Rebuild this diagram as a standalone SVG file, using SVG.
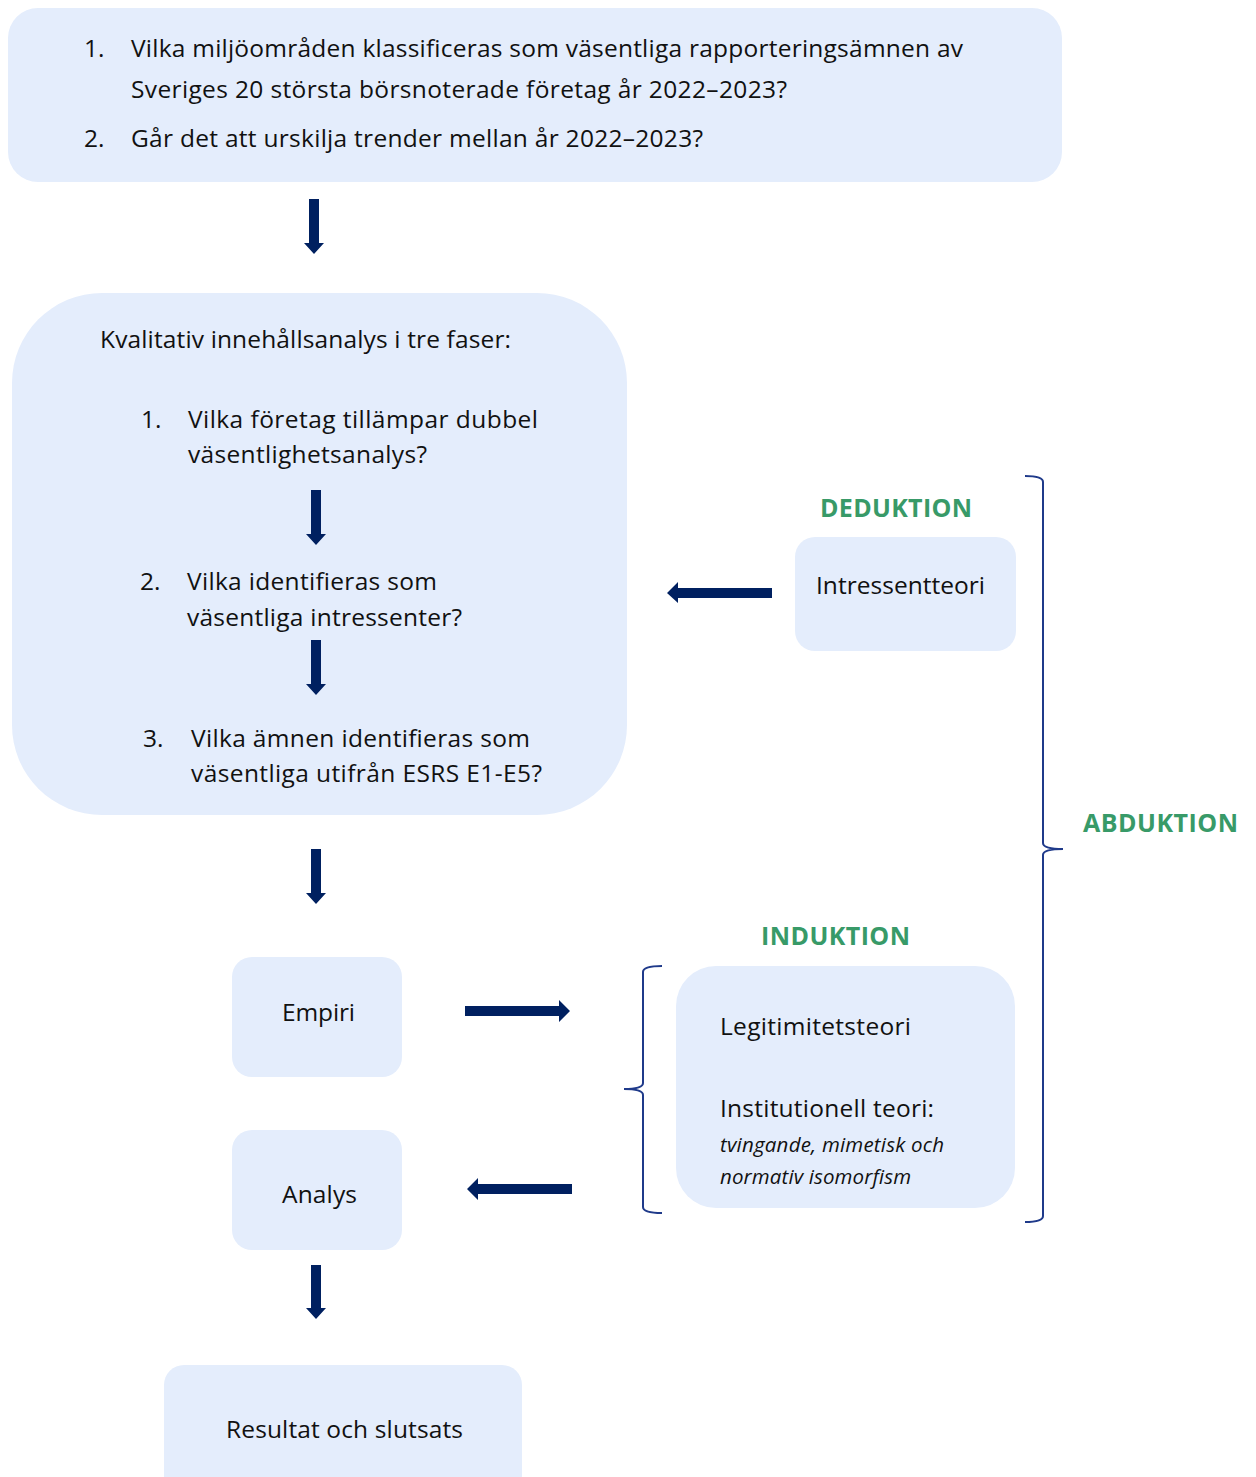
<svg xmlns="http://www.w3.org/2000/svg" width="1256" height="1477" viewBox="0 0 1256 1477">
<style>
.box{fill:#E4EDFC}
.t{font-family:"Open Sans","Noto Sans","Liberation Sans",sans-serif;font-size:24.5px;fill:#111}
.ti{font-family:"Open Sans","Noto Sans","Liberation Sans",sans-serif;font-size:20.5px;font-style:italic;fill:#111}
.g{font-family:"Open Sans","Noto Sans","Liberation Sans",sans-serif;font-size:25px;font-weight:bold;fill:#389A68}
.arr{fill:#002060}
.br{fill:none;stroke:#1F3A8A;stroke-width:2}
</style>
<rect width="1256" height="1477" fill="#fff"/>
<g id="questions">
<rect class="box" x="8" y="8" width="1054" height="174" rx="30"/>
<text class="t" x="84" y="57">1.</text>
<text class="t" x="131" y="57" textLength="832">Vilka miljöområden klassificeras som väsentliga rapporteringsämnen av</text>
<text class="t" x="131" y="98" textLength="656">Sveriges 20 största börsnoterade företag år 2022–2023?</text>
<text class="t" x="84" y="147">2.</text>
<text class="t" x="131" y="147" textLength="572">Går det att urskilja trender mellan år 2022–2023?</text>
</g>
<g id="analysis">
<rect class="box" x="12" y="293" width="615" height="522" rx="90"/>
<text class="t" x="100" y="348" textLength="411">Kvalitativ innehållsanalys i tre faser:</text>
<text class="t" x="141" y="428">1.</text>
<text class="t" x="188" y="428" textLength="350">Vilka företag tillämpar dubbel</text>
<text class="t" x="188" y="463" textLength="239">väsentlighetsanalys?</text>
<text class="t" x="140" y="590">2.</text>
<text class="t" x="187" y="590" textLength="250">Vilka identifieras som</text>
<text class="t" x="187" y="626" textLength="275">väsentliga intressenter?</text>
<text class="t" x="143" y="747">3.</text>
<text class="t" x="191" y="747" textLength="339">Vilka ämnen identifieras som</text>
<text class="t" x="191" y="782" textLength="351">väsentliga utifrån ESRS E1-E5?</text>
</g>
<g id="intressentteori">
<rect class="box" x="795" y="537" width="221" height="114" rx="20"/>
<text class="t" x="816" y="594" textLength="169">Intressentteori</text>
</g>
<g id="empiri">
<rect class="box" x="232" y="957" width="170" height="120" rx="20"/>
<text class="t" x="282" y="1021" textLength="73">Empiri</text>
</g>
<g id="analys">
<rect class="box" x="232" y="1130" width="170" height="120" rx="20"/>
<text class="t" x="282" y="1203" textLength="75">Analys</text>
</g>
<g id="resultat">
<rect class="box" x="164" y="1365" width="358" height="130" rx="20"/>
<text class="t" x="226" y="1438" textLength="237">Resultat och slutsats</text>
</g>
<g id="teorier">
<rect class="box" x="676" y="966" width="339" height="242" rx="40"/>
<text class="t" x="720" y="1035" textLength="191">Legitimitetsteori</text>
<text class="t" x="720" y="1117" textLength="214">Institutionell teori:</text>
<text class="ti" x="720" y="1152" textLength="224">tvingande, mimetisk och</text>
<text class="ti" x="720" y="1184" textLength="191">normativ isomorfism</text>
</g>
<g id="labels">
<text class="g" x="820" y="517" textLength="152">DEDUKTION</text>
<text class="g" x="761" y="945" textLength="149">INDUKTION</text>
<text class="g" x="1083" y="832" textLength="155">ABDUKTION</text>
</g>
<g id="connectors">
<polygon class="arr" points="309,199 319,199 319,243 324,243 314,254 304,243 309,243"/>
<polygon class="arr" points="311,490 321,490 321,534 326,534 316,545 306,534 311,534"/>
<polygon class="arr" points="311,640 321,640 321,684 326,684 316,695 306,684 311,684"/>
<polygon class="arr" points="311,849 321,849 321,893 326,893 316,904 306,893 311,893"/>
<polygon class="arr" points="311,1265 321,1265 321,1308 326,1308 316,1319 306,1308 311,1308"/>
<polygon class="arr" points="772,588 772,598 678,598 678,603 667,593 678,582 678,588"/>
<polygon class="arr" points="465,1006 559,1006 559,1000 570,1011 559,1022 559,1016 465,1016"/>
<polygon class="arr" points="572,1184 572,1194 478,1194 478,1200 467,1189 478,1178 478,1184"/>
<path class="br" d="M1025,476 Q1043,476 1043,482 L1043,843 Q1043,849 1063,849 Q1043,849 1043,855 L1043,1216 Q1043,1222 1025,1222"/>
<path class="br" d="M662,966 Q643,966 643,972 L643,1083 Q643,1089 624,1089 Q643,1089 643,1095 L643,1207 Q643,1213 662,1213"/>
</g>
</svg>
